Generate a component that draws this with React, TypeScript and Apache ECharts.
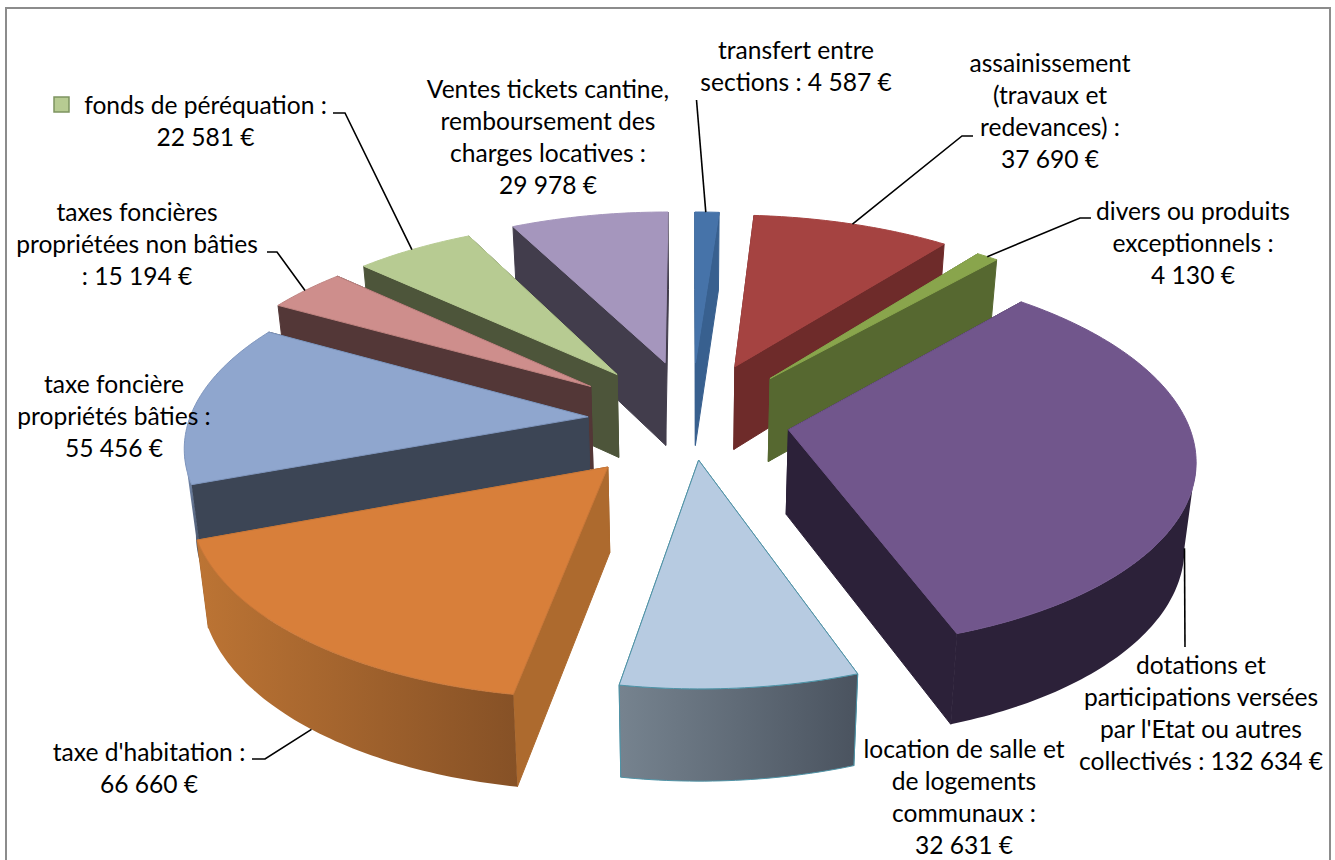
import React, { useEffect, useRef } from "react";
import * as echarts from "echarts";

// ---- data -------------------------------------------------------------
const categories = [
  "transfert entre sections",
  "assainissement (travaux et redevances)",
  "divers ou produits exceptionnels",
  "dotations et participations versées par l'Etat ou autres collectivés",
  "location de salle et de logements communaux",
  "taxe d'habitation",
  "taxe foncière propriétés bâties",
  "taxes foncières propriétées non bâties",
  "fonds de péréquation",
  "Ventes tickets cantine, remboursement des charges locatives",
];
const values = [4587, 37690, 4130, 132634, 32631, 66660, 55456, 15194, 22581, 29978];
const labelLines = [
  ["transfert entre", "sections : 4 587 €"],
  ["assainissement", "(travaux et", "redevances) :", "37 690 €"],
  ["divers ou produits", "exceptionnels :", "4 130 €"],
  ["dotations et", "participations versées", "par l'Etat ou autres", "collectivés : 132 634 €"],
  ["location de salle et", "de logements", "communaux :", "32 631 €"],
  ["taxe d'habitation :", "66 660 €"],
  ["taxe foncière", "propriétés bâties :", "55 456 €"],
  ["taxes foncières", "propriétées non bâties", ": 15 194 €"],
  ["fonds de péréquation :", "22 581 €"],
  ["Ventes tickets cantine,", "remboursement des", "charges locatives :", "29 978 €"],
];

// ---- styles & layout ---------------------------------------------------
// how far each slice is pulled out of the pie, in pie radii (right, back)
const explodeX = [0.0144, 0.117, 0.207, 0.245, 0.021, -0.199, -0.256, -0.255, -0.189, -0.065];
const explodeY = [0.267, 0.244, 0.176, -0.106, -0.264, -0.299, -0.037, 0.131, 0.199, 0.267];
const topColors = ["#4673A9", "#A54341", "#89A54C", "#71568C", "#B7CBE1", "#D87F3A", "#8FA6CE", "#CE8E8C", "#B7CB92", "#A596BD"];
const wallColors = ["#38608F", "#6E2B2A", "#566830", "#2C2139", "#3F4A58", "#AD6A2E", "#3C4555", "#533737", "#4D553A", "#423D4C"];
const outerLeft = ["#38608F", "#6E2B2A", "#566830", "#2C2139", "#76838F", "#BC7434", "#7F96BE", "#533737", "#4D553A", "#423D4C"];
const outerRight = ["#38608F", "#6E2B2A", "#566830", "#2C2139", "#4A535F", "#865126", "#3C4555", "#533737", "#4D553A", "#423D4C"];
const edgeColors = ["#4673A9", "#A54341", "#89A54C", "#71568C", "#4F93A6", "#C9783A", "#7F96BE", "#C08481", "#B7CB92", "#A596BD"];
const TEAL = "#4F93A6";
// centre x, first line centre y per label
const labelPos: [number, number][] = [
  [796, 49], [1050, 62], [1193, 210], [1201, 664], [964, 748], [149, 751], [114, 383], [137, 211], [205.5, 104], [548, 88],
];
// leader lines: slice index, fraction along the arc, then the screen elbows up to the label
const leaders: { slice: number; frac: number; depth: number; via: [number, number][] }[] = [
  { slice: 0, frac: 0.45, depth: 0, via: [[696.5, 100]] },
  { slice: 1, frac: 0.5, depth: 0, via: [[962, 136], [973, 136]] },
  { slice: 2, frac: 0.5, depth: 0, via: [[1080, 218], [1091, 218]] },
  { slice: 3, frac: 0.49, depth: 1, via: [[1185, 647]] },
  { slice: 5, frac: 0.5, depth: 1, via: [[265, 759], [252, 759]] },
  { slice: 7, frac: 0.48, depth: 0, via: [[277, 252], [267, 252]] },
  { slice: 8, frac: 0.48, depth: 0, via: [[345, 113], [333, 113]] },
];
const LINE_H = 32.3;
const FONT = "Lato, 'Open Sans', sans-serif";
const FONT_SIZE = 24.6;

// ---- 3D projection -----------------------------------------------------
const CX = 690, CY = 410, A = 396, B = 183, P = 0.135, DEPTH = 84, SHRINK = 0.977, RADIUS = 1;

function project(X: number, Y: number, z: number): number[] {
  const w = 1 + P * Y;
  const x = (A * X) / w;
  const y = (-B * Y) / w + (DEPTH * z) / Math.sqrt(w);
  return [CX + x * (z ? SHRINK : 1), CY + y];
}

const total = values.reduce((s, v) => s + v, 0);
function sliceGeom(i: number) {
  let before = 0;
  for (let k = 0; k < i; k++) before += values[k];
  const t0 = (before / total) * Math.PI * 2;
  const t1 = ((before + values[i]) / total) * Math.PI * 2;
  const mid = (t0 + t1) / 2;
  const ox = explodeX[i], oy = explodeY[i];
  const at = (t: number, z: number, r = RADIUS) => project(ox + r * Math.sin(t), oy + r * Math.cos(t), z);
  return { t0, t1, mid, ox, oy, at };
}

function renderSlice(params: any, api: any) {
  const i = params.dataIndex;
  api.value(0);
  const g = sliceGeom(i);
  const steps = Math.max(8, Math.ceil((g.t1 - g.t0) * 60));
  const ts: number[] = [];
  for (let s = 0; s <= steps; s++) ts.push(g.t0 + ((g.t1 - g.t0) * s) / steps);
  const apex0 = project(g.ox, g.oy, 0), apex1 = project(g.ox, g.oy, 1);
  const arcTop = ts.map((t) => g.at(t, 0));

  // draw back slices first
  const base = Math.round((1 - Math.cos(g.mid)) * 1000);
  const children: any[] = [];
  const poly = (pts: number[][], fill: any, stroke: any, z2: number) => ({
    type: "polygon",
    z2,
    shape: { points: pts },
    style: { fill, stroke, lineWidth: 1, lineJoin: "round" },
  });
  const radial = (t: number) => {
    const p0 = g.at(t, 0), p1 = g.at(t, 1);
    const wy = g.oy + 0.5 * Math.cos(t);
    return { pts: [apex0, p0, p1, apex1], wy };
  };
  const walls = [radial(g.t0), radial(g.t1)].sort((a, b) => b.wy - a.wy);
  walls.forEach((w, k) => {
    children.push(poly(w.pts, wallColors[i], edgeColors[i] === TEAL ? TEAL : wallColors[i], base + k));
  });

  // front-facing part of the outer wall only
  const frontTs: number[] = [];
  for (let s = 0; s < ts.length - 1; s++) {
    if (g.at(ts[s + 1], 0)[0] < g.at(ts[s], 0)[0]) {
      if (!frontTs.length) frontTs.push(ts[s]);
      frontTs.push(ts[s + 1]);
    }
  }
  if (frontTs.length > 1) {
    const pts = [...frontTs.map((t) => g.at(t, 0)), ...frontTs.slice().reverse().map((t) => g.at(t, 1))];
    const fill = new echarts.graphic.LinearGradient(0, 0, 1, 0, [
      { offset: 0, color: outerLeft[i] },
      { offset: 1, color: outerRight[i] },
    ]);
    children.push(poly(pts, fill, edgeColors[i] === TEAL ? TEAL : "none", base + 3));
  }
  children.push(poly([apex0, ...arcTop], topColors[i], edgeColors[i], base + 4));
  return { type: "group", children };
}

function Chart() {
  const ref = useRef<HTMLDivElement>(null);
  useEffect(() => {
    document.body.style.margin = "0";
    document.body.style.overflow = "hidden";
    const chart = echarts.init(ref.current!, undefined, { renderer: "svg" });

    const labels: any[] = [];
    labelLines.forEach((lines, i) => {
      lines.forEach((txt, k) => {
        labels.push({
          type: "text",
          z: 100,
          x: labelPos[i][0],
          y: labelPos[i][1] + k * LINE_H,
          style: { text: txt, font: `${FONT_SIZE}px ${FONT}`, fill: "#000000", align: "center", verticalAlign: "middle" },
        });
      });
    });
    const lines: any[] = leaders.map((l) => {
      const g = sliceGeom(l.slice);
      const start = g.at(g.t0 + (g.t1 - g.t0) * l.frac, l.depth);
      return {
        type: "polyline",
        z: 90,
        shape: { points: [start, ...l.via] },
        style: { stroke: "#000000", lineWidth: 1.6, fill: "none" },
      };
    });

    chart.setOption({
      animation: false,
      backgroundColor: "#ffffff",
      graphic: [
        {
          type: "rect",
          z: -1,
          shape: { x: 6, y: 8, width: 1324, height: 870 },
          style: { fill: "#ffffff", stroke: "#8C8C8C", lineWidth: 2 },
        },
        ...lines,
        ...labels,
        {
          type: "rect",
          z: 100,
          shape: { x: 54, y: 97, width: 15, height: 15 },
          style: { fill: "#B7CB92", stroke: "#7E9460", lineWidth: 1.5 },
        },
      ],
      series: [
        {
          type: "custom",
          coordinateSystem: "none",
          name: "recettes",
          renderItem: renderSlice,
          data: values.map((v, i) => ({ name: categories[i], value: [v] })),
          silent: true,
          z: 10,
        },
      ],
    });
    return () => chart.dispose();
  }, []);
  return <div ref={ref} style={{ width: 1335, height: 860 }} />;
}

export default function App() {
  return <Chart />;
}
